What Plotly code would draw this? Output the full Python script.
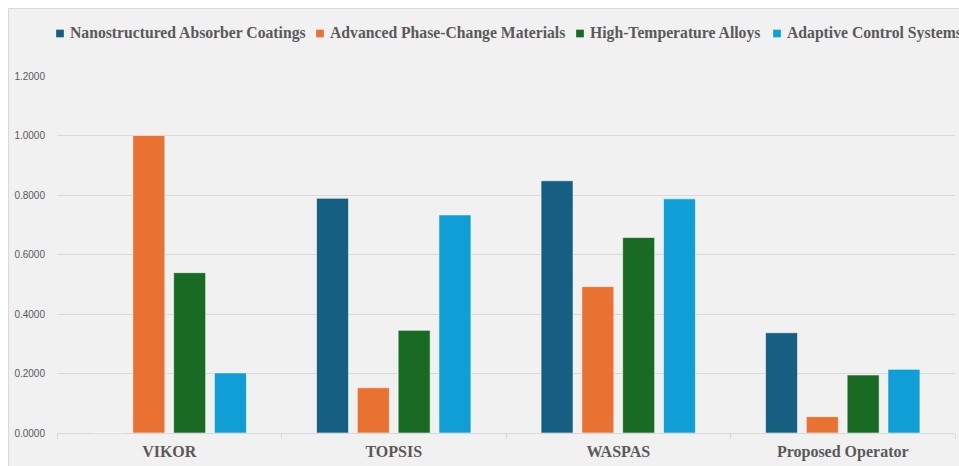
import plotly.graph_objects as go

# Ranking scores of four solar-thermal technologies under each MCDM method
methods = ["VIKOR", "TOPSIS", "WASPAS", "Proposed Operator"]
series_names = [
    "Nanostructured Absorber Coatings",
    "Advanced Phase-Change Materials",
    "High-Temperature Alloys",
    "Adaptive Control Systems",
]
nanostructured = [0.0000, 0.7890, 0.8480, 0.3370]
phase_change = [1.0000, 0.1520, 0.4920, 0.0550]
high_temp_alloys = [0.5390, 0.3450, 0.6570, 0.1950]
adaptive_control = [0.2020, 0.7330, 0.7870, 0.2140]
y_ticks = [0.0, 0.2, 0.4, 0.6, 0.8, 1.0, 1.2]

colors = ["#156082", "#E97132", "#196B24", "#0F9ED5"]
series_values = [nanostructured, phase_change, high_temp_alloys, adaptive_control]

W, H = 959, 466
M_L, M_R, M_T, M_B = 57, 4, 76, 33
PW, PH = W - M_L - M_R, H - M_T - M_B


def px_x(x):
    return (x - M_L) / PW


def px_y(y):
    return (H - M_B - y) / PH


fig = go.Figure()
for name, vals, col in zip(series_names, series_values, colors):
    fig.add_trace(go.Bar(
        x=methods, y=vals, name=name,
        marker=dict(color=col, line=dict(color="rgba(255,255,255,0.55)", width=1)),
        showlegend=False,
    ))

# framed light-grey chart area
shapes = [dict(
    type="rect", xref="paper", yref="paper", layer="below",
    x0=px_x(8.5), x1=px_x(W + 20), y0=px_y(H + 20), y1=px_y(8.5),
    fillcolor="#F1F1F1", line=dict(color="#D9D9D9", width=1),
)]

# legend row across the top
legend_font = dict(family="Liberation Serif", size=15.7, color="#595959", weight="bold")
legend_text_x = [68, 328, 588, 785]
annotations = []
for name, col, tx in zip(series_names, colors, legend_text_x):
    shapes.append(dict(
        type="rect", xref="paper", yref="paper",
        x0=px_x(tx - 12), x1=px_x(tx - 4), y0=px_y(37.5), y1=px_y(29.5),
        fillcolor=col, line=dict(color="rgba(255,255,255,0.6)", width=0.5),
    ))
    annotations.append(dict(
        text=name, xref="paper", yref="paper", x=px_x(tx), y=px_y(33.5),
        xanchor="left", yanchor="middle", showarrow=False, font=legend_font,
    ))

fig.update_layout(
    width=W, height=H,
    margin=dict(l=M_L, r=M_R, t=M_T, b=M_B, pad=0),
    paper_bgcolor="white",
    plot_bgcolor="rgba(0,0,0,0)",
    barmode="group",
    bargap=0.273,
    bargroupgap=0.216,
    shapes=shapes,
    annotations=annotations,
    showlegend=False,
    xaxis=dict(
        showgrid=False, showline=True, linecolor="#D9D9D9", linewidth=1,
        ticks="outside", tickson="boundaries", ticklen=5, tickcolor="#D9D9D9",
        tickfont=dict(family="Liberation Serif", size=16, color="#595959", weight="bold"),
        ticklabelstandoff=4,
    ),
    yaxis=dict(
        range=[0, 1.2], tickvals=y_ticks, tickformat=".4f",
        showgrid=True, gridcolor="#D9D9D9", gridwidth=1,
        zeroline=False, showline=False, ticks="",
        tickfont=dict(family="Liberation Sans", size=10, color="#595959"),
        ticklabelstandoff=11,
    ),
)

fig.write_html("out.html")
